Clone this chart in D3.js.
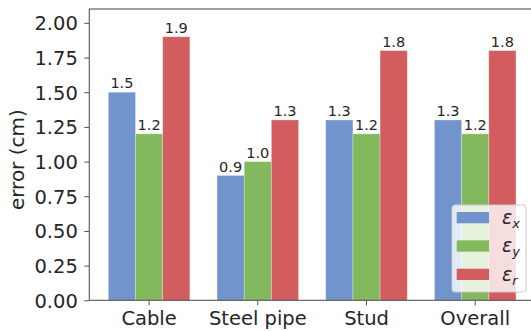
<!DOCTYPE html>
<html>
<head>
<meta charset="utf-8">
<script src="https://cdn.jsdelivr.net/npm/d3@7"></script>
<style>
  html, body { margin: 0; padding: 0; background: #fff; }
  svg { display: block; font-family: "DejaVu Sans", sans-serif; }
</style>
</head>
<body>
<svg id="chart" width="531" height="331"></svg>
<script>
// Localization error per target type, one bar per error component
const categories = ["Cable", "Steel pipe", "Stud", "Overall"];
const seriesKeys = ["x", "y", "r"];
const errX = [1.5, 0.9, 1.3, 1.3];
const errY = [1.2, 1.0, 1.2, 1.2];
const errR = [1.9, 1.3, 1.8, 1.8];
const yTicks = [0, 0.25, 0.5, 0.75, 1.0, 1.25, 1.5, 1.75, 2.0];
const colors = ["#7094cb", "#82b95c", "#d35c5f"];

const seriesValues = [errX, errY, errR];

const svg = d3.select("#chart");
const plotLeft = 89.3, plotRight = 535, plotTop = 9, plotBottom = 300.3;

const x = d3.scaleBand()
  .domain(categories)
  .range([plotLeft, plotRight])
  .paddingInner(0.25)
  .paddingOuter(0.175);

const xs = d3.scaleBand()
  .domain(seriesKeys)
  .range([0, x.bandwidth()]);

const y = d3.scaleLinear().domain([0, 2.1]).range([plotBottom, plotTop]);

const textColor = "#262626";
const axisColor = "#555";

// Bars
const groups = svg.append("g").selectAll("g")
  .data(seriesKeys)
  .join("g")
  .attr("fill", (d, i) => colors[i]);

const rows = (k, si) => categories.map((c, ci) => ({ c, k, v: seriesValues[si][ci] }));

groups.selectAll("rect")
  .data(rows)
  .join("rect")
  .attr("x", d => x(d.c) + xs(d.k))
  .attr("width", xs.bandwidth())
  .attr("y", d => y(d.v))
  .attr("height", d => y(0) - y(d.v))
  .attr("stroke", "#fff")
  .attr("stroke-opacity", 0.35)
  .attr("stroke-width", 0.8);

// Value labels above bars
const fmt = d3.format(".1f");
groups.selectAll("text")
  .data(rows)
  .join("text")
  .attr("x", d => x(d.c) + xs(d.k) + xs.bandwidth() / 2)
  .attr("y", d => y(d.v) - 3.8)
  .attr("text-anchor", "middle")
  .attr("fill", textColor)
  .attr("font-size", 14.5)
  .text(d => fmt(d.v));

// Y axis
const yAxis = svg.append("g")
  .attr("transform", `translate(${plotLeft},0)`)
  .call(d3.axisLeft(y).tickValues(yTicks).tickFormat(d3.format(".2f")).tickSize(5).tickPadding(6.5));
yAxis.select(".domain").remove();
yAxis.selectAll(".tick line").attr("stroke", axisColor).attr("stroke-width", 1);
yAxis.selectAll(".tick text")
  .attr("fill", textColor)
  .attr("font-size", 19.5)
  .attr("font-family", "DejaVu Sans")
  .attr("dy", "0.36em");

// X axis
const xAxis = svg.append("g")
  .attr("transform", `translate(0,${plotBottom})`)
  .call(d3.axisBottom(x).tickSize(5).tickPadding(0));
xAxis.select(".domain").remove();
xAxis.selectAll(".tick line").attr("stroke", axisColor).attr("stroke-width", 1);
xAxis.selectAll(".tick text")
  .attr("fill", textColor)
  .attr("font-size", 19.5)
  .attr("font-family", "DejaVu Sans")
  .attr("dy", null)
  .attr("y", 25);

// Frame
svg.append("rect")
  .attr("x", plotLeft).attr("y", plotTop)
  .attr("width", plotRight - plotLeft).attr("height", plotBottom - plotTop)
  .attr("fill", "none")
  .attr("stroke", axisColor)
  .attr("stroke-width", 1.1);

// Y axis title
svg.append("text")
  .attr("transform", `translate(23.5,${(plotTop + plotBottom) / 2 + 5}) rotate(-90)`)
  .attr("text-anchor", "middle")
  .attr("fill", textColor)
  .attr("font-size", 20)
  .text("error (cm)");

// Legend
const legend = svg.append("g").attr("transform", "translate(452,205)");
legend.append("rect")
  .attr("width", 74).attr("height", 87)
  .attr("rx", 3).attr("ry", 3)
  .attr("fill", "#fff").attr("fill-opacity", 0.8)
  .attr("stroke", "#ccc").attr("stroke-width", 1);

const rowY = d3.scalePoint().domain(seriesKeys).range([7, 63.7]);
const items = legend.selectAll("g.item")
  .data(seriesKeys)
  .join("g")
  .attr("class", "item")
  .attr("transform", d => `translate(0,${rowY(d)})`);
items.append("rect")
  .attr("x", 4.7).attr("y", 0)
  .attr("width", 32.3).attr("height", 11.3)
  .attr("fill", (d, i) => colors[i]);
const lbl = items.append("text")
  .attr("x", 50)
  .attr("y", 12)
  .attr("fill", textColor)
  .attr("font-size", 19)
  .attr("font-style", "italic");
lbl.append("tspan").text("ε");
lbl.append("tspan")
  .attr("font-size", 13)
  .attr("dy", 4)
  .text(d => d);
</script>
</body>
</html>
